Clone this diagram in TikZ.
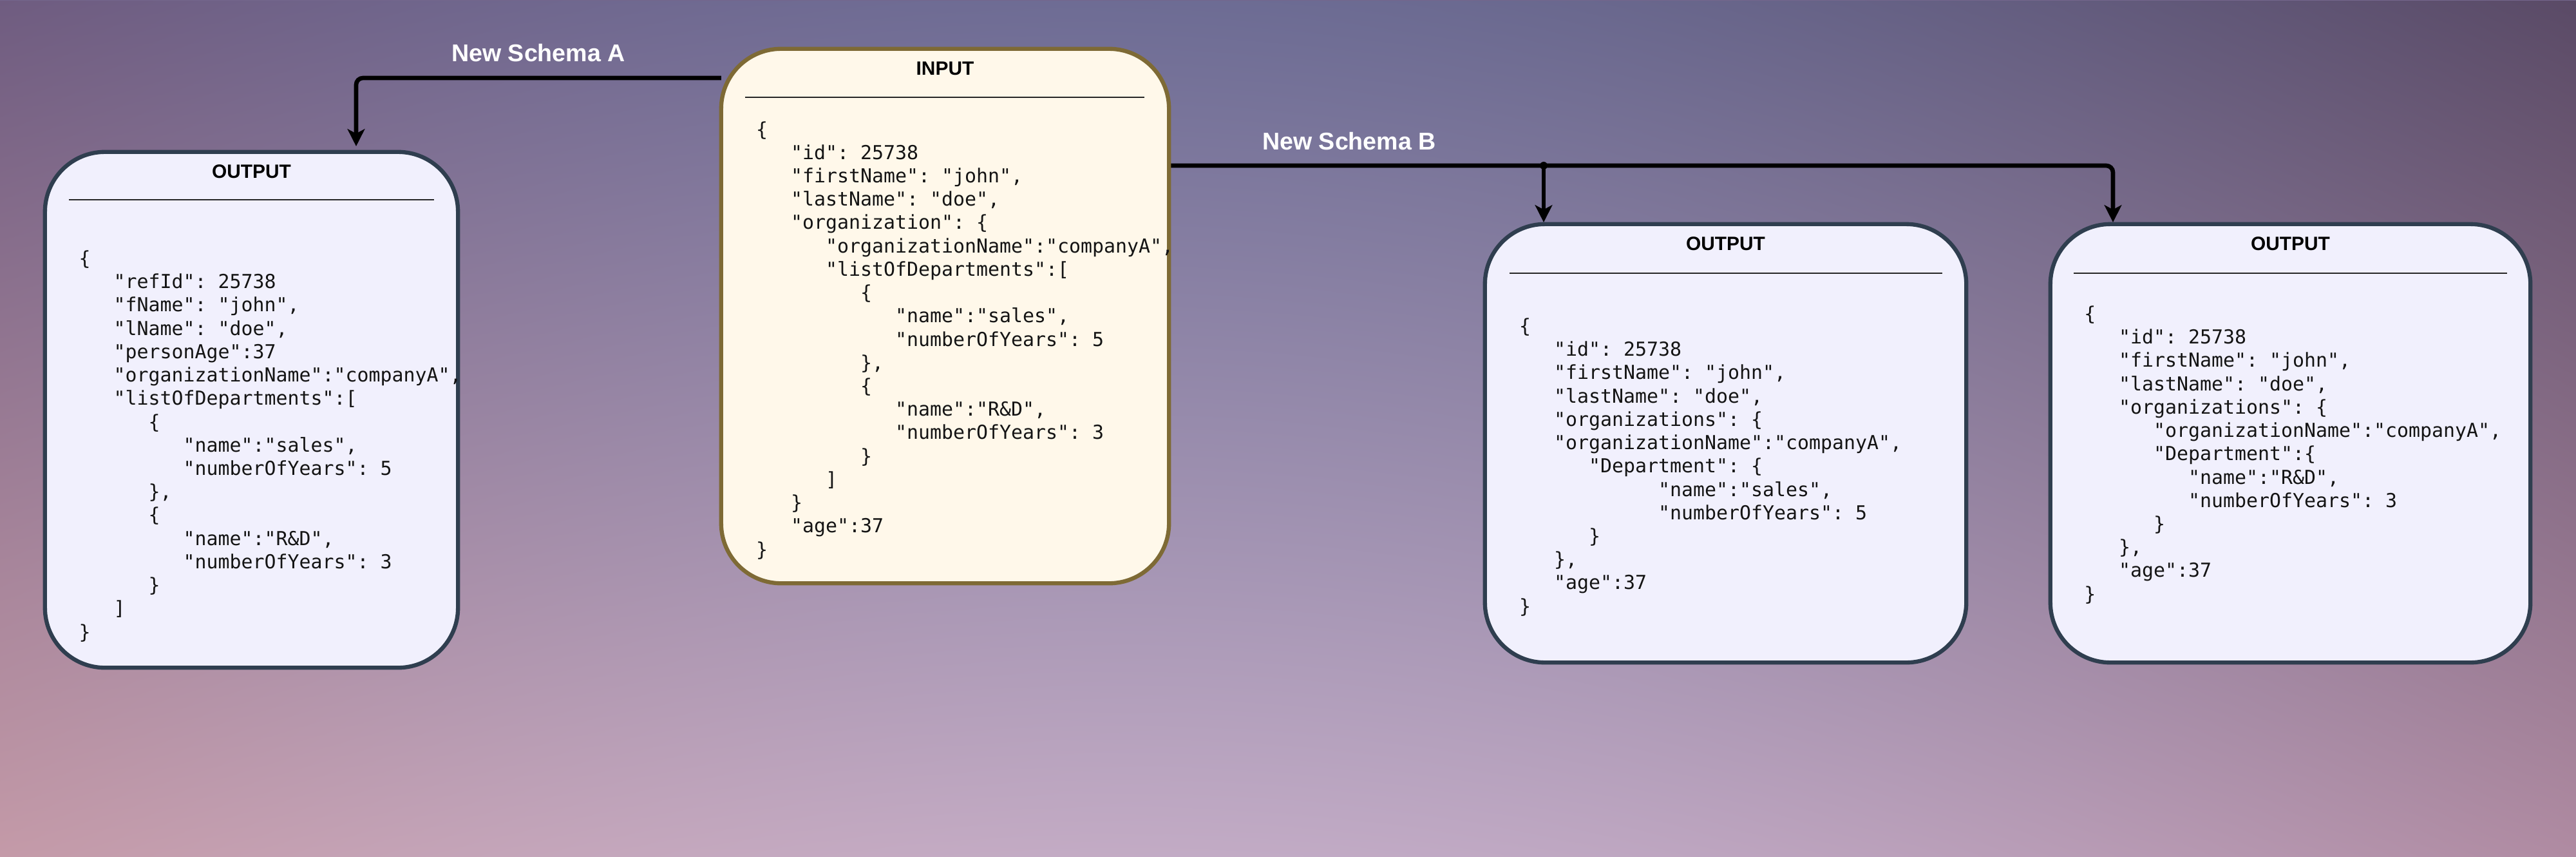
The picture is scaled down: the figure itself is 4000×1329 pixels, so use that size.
\documentclass[tikz,border=0pt]{standalone}
\usepackage{fontspec}
\setmainfont{Liberation Sans}
\setmonofont{DejaVu Sans Mono}
\usetikzlibrary{calc,arrows.meta}
\definecolor{outfill}{HTML}{F1F0FD}
\definecolor{outdraw}{HTML}{2F3E4F}
\definecolor{infill}{HTML}{FFF8EA}
\definecolor{indraw}{HTML}{7E6A35}
\definecolor{bgtop}{HTML}{74668C}
\pgfdeclarelayer{bglayer}
\pgfdeclarelayer{connlayer}
\pgfsetlayers{bglayer,connlayer,main}
\pgfdeclarefunctionalshading{bgshade}{\pgfpoint{0bp}{0bp}}{\pgfpoint{1133.858bp}{376.726bp}}{}{
376.726 div exch 1133.858 div exch
1 index -0.079 mul
1 index -0.334 mul add
2 index 2 index mul -0.003 mul add
2 index 180 mul sin 0.03 mul add
0.769 add
2 index -0.059 mul
2 index -0.243 mul add
3 index 3 index mul -0.012 mul add
3 index 180 mul sin 0.095 mul add
0.604 add
3 index -0.024 mul
3 index -0.157 mul add
4 index 4 index mul -0.078 mul add
4 index 180 mul sin 0.125 mul add
0.659 add
5 -2 roll pop pop
}
\tikzset{
  boxbase/.style={rectangle, rounded corners=0.93cm, line width=1.8pt, outer sep=0pt, inner sep=0pt},
  outbox/.style={boxbase, draw=outdraw, fill=outfill},
  inbox/.style={boxbase, draw=indraw, fill=infill},
  boxtitle/.style={font=\bfseries\fontsize{8.5}{10}\selectfont, inner sep=0pt, text=black},
  sepline/.style={line width=0.5pt, draw=black!85},
  json/.style={font=\ttfamily\fontsize{8.5}{10.3}\selectfont, inner sep=0pt, text=black!92, anchor=base west},
  schemalabel/.style={font=\bfseries\fontsize{10.7}{12}\selectfont, text=white, inner sep=0pt},
  conn/.style={line width=1.9pt, draw=black, rounded corners=3pt,
    -{Stealth[length=7.6pt,width=7.6pt,inset=2pt]}}
}
\begin{document}
\begin{tikzpicture}[x=0.01cm,y=-0.01cm]
\useasboundingbox (0,0) rectangle (4000,1329);
\begin{pgfonlayer}{bglayer}
\fill[bgtop] (-5,-5) rectangle (4005,1334);
\node[inner sep=0pt, outer sep=0pt, anchor=north west] (bg) at (0,0) {\pgfuseshading{bgshade}};
\end{pgfonlayer}

% boxes
\node[outbox, minimum width=6.41cm, minimum height=8.00cm] (oa) at (390.5,636) {};
\node[inbox,  minimum width=6.95cm, minimum height=8.29cm] (in) at (1467.5,490.5) {};
\node[outbox, minimum width=7.47cm, minimum height=6.80cm] (ob) at (2679.5,688) {};
\node[outbox, minimum width=7.45cm, minimum height=6.80cm] (oc) at (3556.5,688) {};

% titles
\node[boxtitle] (ta) at ($(oa.north)+(0,30)$) {OUTPUT};
\node[boxtitle] (ti) at ($(in.north)+(0,31)$) {INPUT};
\node[boxtitle] (tb) at ($(ob.north)+(0,30)$) {OUTPUT};
\node[boxtitle] (tc) at ($(oc.north)+(0,30)$) {OUTPUT};

% separators
\draw[sepline] ($(oa.north west)+(37,74)$) -- ($(oa.north east)+(-37,74)$);
\draw[sepline] ($(in.north west)+(37,75)$) -- ($(in.north east)+(-38,75)$);
\draw[sepline] ($(ob.north west)+(38,76)$) -- ($(ob.north east)+(-37,76)$);
\draw[sepline] ($(oc.north west)+(36,76)$) -- ($(oc.north east)+(-36,76)$);

% JSON texts
\node[json] (ja) at (122,411.5) {\begin{tabular}[t]{@{}l@{}}
\{\\
~~~"refId": 25738\\
~~~"fName": "john",\\
~~~"lName": "doe",\\
~~~"personAge":37\\
~~~"organizationName":"companyA",\\
~~~"listOfDepartments":[\\
~~~~~~\{\\
~~~~~~~~~"name":"sales",\\
~~~~~~~~~"numberOfYears": 5\\
~~~~~~\},\\
~~~~~~\{\\
~~~~~~~~~"name":"R\&D",\\
~~~~~~~~~"numberOfYears": 3\\
~~~~~~\}\\
~~~]\\
\}
\end{tabular}};

\node[json] (ji) at (1173.5,211) {\begin{tabular}[t]{@{}l@{}}
\{\\
~~~"id": 25738\\
~~~"firstName": "john",\\
~~~"lastName": "doe",\\
~~~"organization": \{\\
~~~~~~"organizationName":"companyA",\\
~~~~~~"listOfDepartments":[\\
~~~~~~~~~\{\\
~~~~~~~~~~~~"name":"sales",\\
~~~~~~~~~~~~"numberOfYears": 5\\
~~~~~~~~~\},\\
~~~~~~~~~\{\\
~~~~~~~~~~~~"name":"R\&D",\\
~~~~~~~~~~~~"numberOfYears": 3\\
~~~~~~~~~\}\\
~~~~~~]\\
~~~\}\\
~~~"age":37\\
\}
\end{tabular}};

\node[json] (jb) at (2358.5,516.5) {\begin{tabular}[t]{@{}l@{}}
\{\\
~~~"id": 25738\\
~~~"firstName": "john",\\
~~~"lastName": "doe",\\
~~~"organizations": \{\\
~~~"organizationName":"companyA",\\
~~~~~~"Department": \{\\
~~~~~~~~~~~~"name":"sales",\\
~~~~~~~~~~~~"numberOfYears": 5\\
~~~~~~\}\\
~~~\},\\
~~~"age":37\\
\}
\end{tabular}};

\node[json] (jc) at (3235.5,497.5) {\begin{tabular}[t]{@{}l@{}}
\{\\
~~~"id": 25738\\
~~~"firstName": "john",\\
~~~"lastName": "doe",\\
~~~"organizations": \{\\
~~~~~~"organizationName":"companyA",\\
~~~~~~"Department":\{\\
~~~~~~~~~"name":"R\&D",\\
~~~~~~~~~"numberOfYears": 3\\
~~~~~~\}\\
~~~\},\\
~~~"age":37\\
\}
\end{tabular}};

% labels
\node[schemalabel] (la) at (836,82) {New Schema A};
\node[schemalabel] (lb) at (2095,219) {New Schema B};

% connectors
\coordinate (jn) at (2397,257);
\begin{pgfonlayer}{connlayer}
\draw[conn, shorten >=2.5pt] (in.west |- 0,121) -| (oa.north -| 553,0);
\draw[conn, shorten >=0.8pt] (in.east |- 0,257) -| (oc.north -| 3281,0);
\draw[conn, shorten >=0.8pt] (jn) -- (ob.north -| jn);
\fill[black] (jn) circle (1.7pt);
\end{pgfonlayer}
\end{tikzpicture}
\end{document}
